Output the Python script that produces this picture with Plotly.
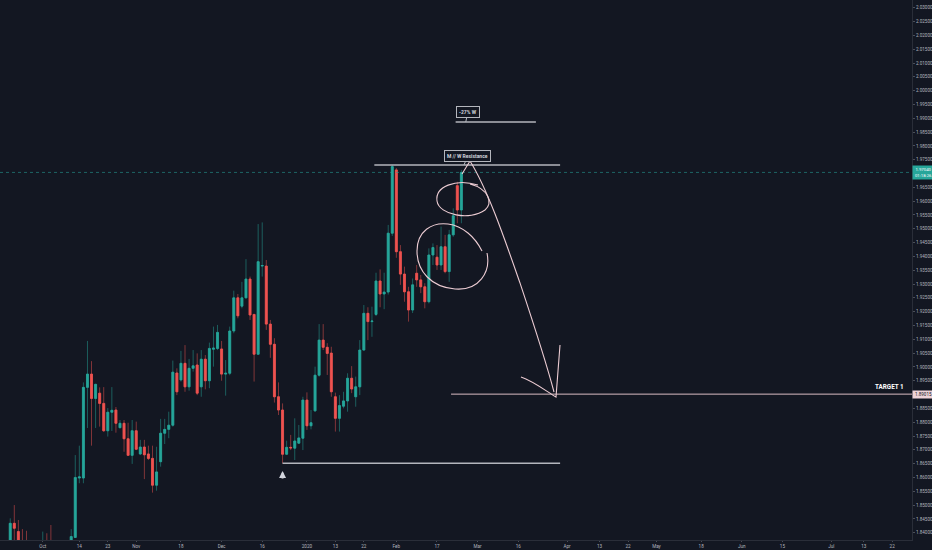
import pandas as pd
import plotly.graph_objects as go

# ---------------- data (daily candles) ----------------
holidays = ["2019-12-25", "2020-01-01"]
dates = [d for d in pd.bdate_range("2019-09-19", "2020-02-25")
         if d.strftime("%Y-%m-%d") not in holidays]

open_ = [1.8362, 1.8434, 1.8404, 1.8352, 1.8340, 1.8310, 1.8280, 1.8300, 1.8275, 1.8330,
         1.8290, 1.8240, 1.8260, 1.8220, 1.8270, 1.8310, 1.8383, 1.8598, 1.8598, 1.8926,
         1.8974, 1.8886, 1.8905, 1.8868, 1.8769, 1.8836, 1.8844, 1.8780, 1.8796, 1.8740,
         1.8680, 1.8769, 1.8685, 1.8710, 1.8685, 1.8669, 1.8572, 1.8657, 1.8760, 1.8774,
         1.8789, 1.8978, 1.8953, 1.9013, 1.8928, 1.8995, 1.9007, 1.8928, 1.9028, 1.8950,
         1.9064, 1.9067, 1.9065, 1.8974, 1.8977, 1.9130, 1.9250, 1.9220, 1.9250, 1.9318,
         1.9190, 1.9046, 1.9365, 1.9365, 1.9155, 1.9082, 1.8892, 1.8844, 1.8684, 1.8709,
         1.8706, 1.8724, 1.8742, 1.8880, 1.8787, 1.8841, 1.8970, 1.9097, 1.9071, 1.9050,
         1.8892, 1.8814, 1.8858, 1.8877, 1.8959, 1.8892, 1.8928, 1.9061, 1.9194, 1.9164,
         1.9190, 1.9311, 1.9264, 1.9271, 1.9484, 1.9713, 1.9417, 1.9336, 1.9272, 1.9206,
         1.9339, 1.9315, 1.9290, 1.9236, 1.9405, 1.9397, 1.9369, 1.9435, 1.9345, 1.9478,
         1.9656, 1.9568]
high = [1.8452, 1.8500, 1.8446, 1.8413, 1.8407, 1.8335, 1.8320, 1.8330, 1.8404, 1.8398,
        1.8428, 1.8300, 1.8310, 1.8290, 1.8330, 1.8413, 1.8681, 1.8715, 1.8944, 1.9094,
        1.9021, 1.8939, 1.8926, 1.8927, 1.8851, 1.8927, 1.8855, 1.8808, 1.8808, 1.8798,
        1.8808, 1.8802, 1.8736, 1.8736, 1.8715, 1.8715, 1.8711, 1.8812, 1.8812, 1.8838,
        1.9023, 1.8995, 1.9058, 1.9079, 1.9029, 1.9061, 1.9049, 1.9061, 1.9043, 1.9088,
        1.9146, 1.9152, 1.9094, 1.9025, 1.9146, 1.9276, 1.9264, 1.9308, 1.9390, 1.9327,
        1.9192, 1.9517, 1.9523, 1.9387, 1.9170, 1.9104, 1.8944, 1.8868, 1.8733, 1.8754,
        1.8814, 1.8790, 1.8892, 1.8908, 1.8844, 1.9001, 1.9155, 1.9155, 1.9086, 1.9073,
        1.8907, 1.8898, 1.8910, 1.8977, 1.9003, 1.8965, 1.9097, 1.9224, 1.9216, 1.9218,
        1.9341, 1.9353, 1.9341, 1.9514, 1.9731, 1.9720, 1.9441, 1.9363, 1.9290, 1.9320,
        1.9369, 1.9333, 1.9303, 1.9429, 1.9447, 1.9441, 1.9508, 1.9478, 1.9496, 1.9574,
        1.9670, 1.9713]
low = [1.8340, 1.8360, 1.8335, 1.8318, 1.8295, 1.8270, 1.8250, 1.8260, 1.8250, 1.8270,
       1.8220, 1.8190, 1.8200, 1.8170, 1.8240, 1.8290, 1.8381, 1.8579, 1.8579, 1.8779,
       1.8715, 1.8779, 1.8784, 1.8765, 1.8748, 1.8768, 1.8762, 1.8778, 1.8693, 1.8678,
       1.8649, 1.8699, 1.8681, 1.8594, 1.8663, 1.8545, 1.8552, 1.8639, 1.8721, 1.8742,
       1.8784, 1.8898, 1.8947, 1.8910, 1.8914, 1.8983, 1.8898, 1.8892, 1.8919, 1.8923,
       1.9001, 1.9061, 1.8950, 1.8896, 1.8970, 1.9122, 1.9176, 1.9212, 1.9248, 1.9170,
       1.8947, 1.9043, 1.9327, 1.9134, 1.9033, 1.8871, 1.8826, 1.8651, 1.8681, 1.8699,
       1.8663, 1.8722, 1.8699, 1.8772, 1.8774, 1.8838, 1.8965, 1.9061, 1.8971, 1.8892,
       1.8766, 1.8766, 1.8850, 1.8838, 1.8905, 1.8856, 1.8898, 1.9059, 1.9097, 1.9109,
       1.9184, 1.9216, 1.9209, 1.9262, 1.9474, 1.9395, 1.9297, 1.9236, 1.9164, 1.9195,
       1.9290, 1.9267, 1.9212, 1.9230, 1.9369, 1.9351, 1.9351, 1.9339, 1.9308, 1.9471,
       1.9520, 1.9520]
close = [1.8434, 1.8416, 1.8350, 1.8340, 1.8310, 1.8280, 1.8300, 1.8275, 1.8330, 1.8290,
         1.8240, 1.8260, 1.8220, 1.8270, 1.8310, 1.8386, 1.8600, 1.8602, 1.8926, 1.8974,
         1.8886, 1.8937, 1.8868, 1.8769, 1.8836, 1.8843, 1.8796, 1.8796, 1.8740, 1.8680,
         1.8769, 1.8702, 1.8710, 1.8682, 1.8669, 1.8572, 1.8620, 1.8760, 1.8774, 1.8789,
         1.8981, 1.8910, 1.9013, 1.8928, 1.8995, 1.9004, 1.8905, 1.9028, 1.8950, 1.9067,
         1.9068, 1.9125, 1.8974, 1.8977, 1.9130, 1.9250, 1.9185, 1.9250, 1.9318, 1.9188,
         1.9046, 1.9381, 1.9367, 1.9155, 1.9082, 1.8892, 1.8844, 1.8684, 1.8709, 1.8707,
         1.8732, 1.8743, 1.8880, 1.8787, 1.8798, 1.8970, 1.9097, 1.9071, 1.9049, 1.8910,
         1.8814, 1.8860, 1.8877, 1.8959, 1.8920, 1.8928, 1.9061, 1.9194, 1.9164, 1.9166,
         1.9311, 1.9264, 1.9271, 1.9484, 1.9725, 1.9417, 1.9336, 1.9272, 1.9206, 1.9297,
         1.9315, 1.9290, 1.9236, 1.9405, 1.9432, 1.9369, 1.9435, 1.9345, 1.9478, 1.9547,
         1.9568, 1.9704]

tick_dates = ["2019-10-01", "2019-10-14", "2019-10-23", "2019-11-01", "2019-11-18",
              "2019-12-02", "2019-12-16", "2020-01-02", "2020-01-13", "2020-01-22",
              "2020-02-03", "2020-02-17", "2020-03-02", "2020-03-16", "2020-04-01",
              "2020-04-13", "2020-04-22", "2020-05-01", "2020-05-18", "2020-06-01",
              "2020-06-15", "2020-07-01", "2020-07-13", "2020-07-22"]
tick_text = ["Oct", "14", "23", "Nov", "18", "Dec", "16", "2020", "13", "22", "Feb", "17",
             "Mar", "16", "Apr", "13", "22", "May", "18", "Jun", "15", "Jul", "13", "22"]

resistance_level = 1.97308
measured_level = 1.98864
support_level = 1.86512
target_level = 1.89015
countdown = "01:18:26"

# ---------------- styling ----------------
BG = "#131722"
UP, DOWN = "#26a69a", "#ef5350"
UP_DIM, DOWN_DIM = "rgba(38,166,154,0.5)", "rgba(239,83,80,0.5)"
AXIS_TXT = "#b2b5be"
DRAW = "#ecccd3"
LINE_GRAY = "#b4b6bd"
FONT = "Roboto"

x_start, x_end = "2019-09-16 11:30", "2020-07-28 21:00"
y_lo, y_hi = 1.83736, 2.03280

body_hi = [max(o, c) for o, c in zip(open_, close)]
body_lo = [min(o, c) for o, c in zip(open_, close)]

fig = go.Figure()
fig.add_trace(go.Candlestick(
    x=dates, open=open_, high=high, low=low, close=close,
    increasing=dict(line=dict(color=UP_DIM, width=1), fillcolor=UP_DIM),
    decreasing=dict(line=dict(color=DOWN_DIM, width=1), fillcolor=DOWN_DIM),
    whiskerwidth=0, hoverinfo="skip", showlegend=False))
fig.add_trace(go.Candlestick(
    x=dates, open=open_, high=body_hi, low=body_lo, close=close,
    increasing=dict(line=dict(color=UP, width=0.6), fillcolor=UP),
    decreasing=dict(line=dict(color=DOWN, width=0.6), fillcolor=DOWN),
    whiskerwidth=0, hoverinfo="skip", showlegend=False))

shapes = []
# current price dotted line
shapes.append(dict(type="line", xref="paper", x0=0, x1=1, yref="y",
                   y0=close[-1], y1=close[-1],
                   line=dict(color="rgba(38,166,154,0.55)", width=1, dash="dot")))
# horizontal drawn levels
shapes.append(dict(type="line", xref="x", yref="y", x0="2020-01-24 14:00", x1="2020-03-30 07:00",
                   y0=resistance_level, y1=resistance_level, line=dict(color=LINE_GRAY, width=1.5)))
shapes.append(dict(type="line", xref="x", yref="y", x0="2020-02-21 14:00", x1="2020-03-20 08:00",
                   y0=measured_level, y1=measured_level, line=dict(color=LINE_GRAY, width=1.5)))
shapes.append(dict(type="line", xref="x", yref="y", x0="2019-12-23", x1="2020-03-30 07:00",
                   y0=support_level, y1=support_level, line=dict(color=LINE_GRAY, width=1.5)))
shapes.append(dict(type="line", xref="x", yref="y", x0="2020-02-20 11:00", x1=x_end,
                   y0=target_level, y1=target_level, line=dict(color="#d9bcc3", width=1)))

# freehand drawings (in plot-area pixel positions -> paper coords)
PW, PH = 912, 540
def pp(x, y):
    return f"{x / PW:.5f},{1 - y / PH:.5f}"
def path(segs):
    return " ".join(cmd + " " + " ".join(pp(*p) for p in pts) for cmd, pts in segs)

doodles = [
    [("M", [(478, 185)]), ("C", [(455, 178), (435, 187), (437, 201)]),
     ("C", [(439, 215), (470, 221), (485, 210)]), ("C", [(493, 203), (489, 189), (470, 184)])],
    [("M", [(487, 253)]), ("C", [(491, 272), (479, 291), (455, 289)]),
     ("C", [(431, 287), (417, 271), (417, 251)]), ("C", [(417, 231), (432, 222), (448, 224)]),
     ("C", [(463, 226), (475, 237), (482, 251)])],
    [("M", [(462, 174)]), ("L", [(470, 161)]), ("C", [(488, 190), (505, 240), (520, 283)]),
     ("C", [(533, 322), (545, 358), (554, 392)])],
    [("M", [(521, 377)]), ("C", [(533, 381), (546, 391), (556, 397)]), ("L", [(560, 345)])],
]
for d in doodles:
    shapes.append(dict(type="path", xref="paper", yref="paper", path=path(d),
                       line=dict(color=DRAW, width=1.1)))

annotations = [
    dict(x="2020-02-25 15:00", y=resistance_level, xref="x", yref="y",
         text="<b>M // W Resistance</b>", showarrow=True, arrowhead=0, arrowwidth=1,
         arrowcolor=LINE_GRAY, ax=4, ay=-9,
         font=dict(family=FONT, size=5, color="#d1d4dc"),
         bgcolor=BG, bordercolor=LINE_GRAY, borderwidth=1, borderpad=2),
    dict(x="2020-02-26 02:00", y=measured_level, xref="x", yref="y",
         text="<b>-27% W</b>", showarrow=True, arrowhead=0, arrowwidth=1,
         arrowcolor=LINE_GRAY, ax=2, ay=-10,
         font=dict(family=FONT, size=5, color="#d1d4dc"),
         bgcolor=BG, bordercolor=LINE_GRAY, borderwidth=1, borderpad=2),
    dict(x="2019-12-23", y=1.86233, xref="x", yref="y", text="", showarrow=True,
         arrowhead=2, arrowsize=0.7, arrowwidth=2.0, arrowcolor="#d1d4dc", ax=0, ay=9),
    dict(x=906 / 912, y=target_level, xref="paper", yref="y", xanchor="right",
         yanchor="bottom", yshift=1, showarrow=False, text="<b>TARGET 1</b>",
         font=dict(family=FONT, size=6.3, color="#ffffff")),
    dict(x=1, y=target_level, xref="paper", yref="y", xanchor="left", yanchor="middle",
         showarrow=False, text=f"{target_level:.5f}", width=19, borderpad=1,
         bgcolor="#efd3d8", font=dict(family=FONT, size=4.5, color="#131722")),
    dict(x=1, y=close[-1], xref="paper", yref="y", xanchor="left", yanchor="middle",
         showarrow=False, text=f"{close[-1]:.5f}<br>{countdown}", width=19, borderpad=1,
         bgcolor=UP, font=dict(family=FONT, size=4.3, color="#ffffff")),
]

fig.update_layout(
    width=932, height=550, autosize=False,
    margin=dict(l=0, r=20, t=0, b=10, pad=0),
    paper_bgcolor=BG, plot_bgcolor=BG,
    showlegend=False, hovermode=False,
    shapes=shapes, annotations=annotations,
    font=dict(family=FONT, color=AXIS_TXT),
    xaxis=dict(type="date", range=[x_start, x_end],
               rangebreaks=[dict(bounds=["sat", "mon"]), dict(values=holidays)],
               rangeslider=dict(visible=False),
               tickmode="array", tickvals=tick_dates, ticktext=tick_text,
               tickfont=dict(size=4.6, color=AXIS_TXT, family=FONT),
               ticks="outside", ticklen=1, tickcolor="#4a4e59",
               showgrid=False, zeroline=False, showline=True, linecolor="#2a2e39",
               automargin=False, fixedrange=True),
    yaxis=dict(side="right", range=[y_lo, y_hi], tick0=1.84, dtick=0.005,
               tickformat=".5f", tickfont=dict(size=4.6, color=AXIS_TXT, family=FONT),
               ticks="outside", ticklen=2, tickcolor="#4a4e59",
               showgrid=False, zeroline=False, showline=True, linecolor="#2a2e39",
               automargin=False, fixedrange=True),
)

fig.write_html("out.html", config={"displayModeBar": False},
               post_script="document.body.style.margin='0';document.body.style.background='#131722';")
